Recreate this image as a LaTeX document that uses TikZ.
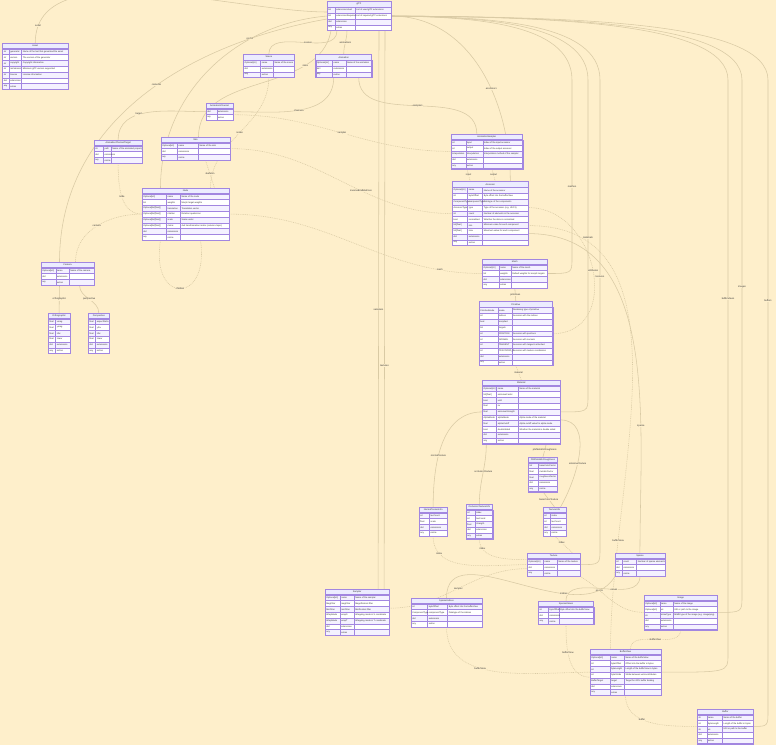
\documentclass[tikz,border=0pt]{standalone}
\usepackage{fontspec}
\setmainfont{Liberation Sans}
\usetikzlibrary{calc}

\definecolor{bg}{HTML}{FEEFCB}
\definecolor{hdr}{HTML}{ECECFF}
\definecolor{rowodd}{HTML}{F4F1FF}
\definecolor{roweven}{HTML}{FFFFFF}
\definecolor{bord}{HTML}{A286E0}
\definecolor{edgec}{HTML}{D9CAA4}
\definecolor{ink}{HTML}{333333}

\pgfdeclarelayer{back}
\pgfdeclarelayer{wires}
\pgfsetlayers{back,wires,main}

\def\rh{5.8}

% \ertab{name}{left}{top}{col1}{col2}{col3}{title}{type/name/description, ...}
\newcommand{\ertab}[8]{%
  \begin{scope}[shift={(#2,#3)}]
    \pgfmathsetmacro{\erA}{#4}%
    \pgfmathsetmacro{\erB}{#4+#5}%
    \pgfmathsetmacro{\erC}{#4+#5+#6}%
    \foreach \ty/\nm/\ds [count=\i] in {#8}{%
      \pgfmathsetmacro{\erya}{\rh*\i}%
      \pgfmathsetmacro{\eryb}{\rh*(\i+1)}%
      \pgfmathsetmacro{\erym}{\rh*(\i+0.5)}%
      \ifodd\i\relax \def\erfc{rowodd}\else \def\erfc{roweven}\fi
      \fill[\erfc] (0,\erya) rectangle (\erC,\eryb);
      \draw[cellline] (0,\erya) rectangle (\erC,\eryb);
      \draw[cellline] (\erA,\erya) -- (\erA,\eryb);
      \draw[cellline] (\erB,\erya) -- (\erB,\eryb);
      \node[celltext] at (1.1,\erym) {\ty};
      \node[celltext] at (\erA+1.1,\erym) {\nm};
      \node[celltext] at (\erB+1.1,\erym) {\ds};
      \xdef\ernrows{\i}%
    }%
    \fill[hdr] (0,0) rectangle (\erC,\rh);
    \node[titletext] at (\erC/2,\rh/2) {#7};
    \pgfmathsetmacro{\ertabh}{\rh*(\ernrows+1)}%
    \draw[tabframe] (0,\rh) -- (\erC,\rh);
    \draw[tabframe] (0,0) rectangle (\erC,\ertabh);
    \node[inner sep=0pt, outer sep=0pt, minimum width={\erC pt}, minimum height={\ertabh pt}, anchor=north west] (#1) at (0,0) {};
  \end{scope}%
}

\begin{document}
\begin{tikzpicture}[x=1pt,y=-1pt,
  cellline/.style={draw=bord, line width=0.4pt},
  tabframe/.style={draw=bord, line width=0.7pt},
  celltext/.style={anchor=west, inner sep=0pt, font=\fontsize{2.2}{2.5}\selectfont, text=ink},
  titletext/.style={inner sep=0pt, font=\fontsize{2.3}{2.6}\selectfont, text=ink},
  rel/.style={draw=edgec, line width=0.55pt},
  opt/.style={draw=edgec, line width=0.55pt, dash pattern=on 0.9pt off 0.9pt},
  lbl/.style={fill=bg, inner sep=0.4pt, font=\fontsize{2.4}{2.7}\selectfont, text=ink}]

\begin{pgfonlayer}{back}
  \fill[white] (0,0) rectangle (784,753);
  \fill[bg] (0,0) rectangle (776,745);
\end{pgfonlayer}
\useasboundingbox (0,0) rectangle (784,753);

% ---------------- entities ----------------
\ertab{gltf}{327}{1.5}{8}{20}{36}{glTF}{list/extensionsUsed/List of used glTF extensions, list/extensionsRequired/List of required glTF extensions, dict/extensions/{}, any/extras/{}}

\ertab{asset}{2.5}{43}{6.5}{12.5}{46.5}{Asset}{str/generator/Name of the tool that generated the asset, str/version/The version of the generator, str/copyright/Copyright information, str/minVersion/Minimum glTF version supported, str/license/License information, dict/extensions/{}, any/extras/{}}

\ertab{scene}{243.3}{54.3}{17.3}{12.7}{21}{Scene}{Optional[str]/name/Name of the scene, dict/extensions/{}, any/extras/{}}

\ertab{anim}{315.7}{54.3}{16.7}{13.3}{26}{Animation}{Optional[str]/name/Name of the animation, dict/extensions/{}, any/extras/{}}

\ertab{animch}{206}{103}{10.7}{16.3}{0}{AnimationChannel}{dict/extensions/{}, any/extras/{}}

\ertab{target}{94}{140}{9.3}{7.7}{31.3}{AnimationChannelTarget}{str/path/Name of the animated property, dict/extensions/{}, any/extras/{}}

\ertab{skin}{161}{137}{16.3}{21}{31.7}{Skin}{Optional[str]/name/Name of the skin, dict/extensions/{}, any/extras/{}}

\ertab{node}{142}{188}{24.3}{14}{48.7}{Node}{Optional[str]/name/Name of the node, list/weights/Morph target weights, Optional[list[float]]/translation/Translation vector, Optional[list[float]]/rotation/Rotation quaternion, Optional[list[float]]/scale/Scale vector, Optional[list[float]]/matrix/4x4 transformation matrix (column-major), dict/extensions/{}, any/extras/{}}

\ertab{animsamp}{451}{134}{14.7}{17}{40}{AnimationSampler}{int/input/Index of the input accessor, int/output/Index of the output accessor, Interpolation/interpolation/Interpolation method of the sampler, dict/extensions/{}, any/extras/{}}

\ertab{accessor}{452.3}{181.7}{15.3}{15}{45.7}{Accessor}{Optional[str]/name/Name of the accessor, int/byteOffset/Byte offset into the bufferView, ComponentType/componentType/Datatype of the components, AccessorType/type/Type of the accessor (e.g. VEC3), int/count/Number of elements in the accessor, bool/normalized/Whether the data is normalized, list[float]/min/Minimum value for each component, list[float]/max/Maximum value for each component, dict/extensions/{}, any/extras/{}}

\ertab{mesh}{482.3}{259}{16.7}{12}{36.3}{Mesh}{Optional[str]/name/Name of the mesh, list/weights/Default weights for morph targets, dict/extensions/{}, any/extras/{}}

\ertab{prim}{479}{301.7}{18.7}{14}{41}{Primitive}{PrimitiveMode/mode/Rendering type of primitive, int/indices/Accessor with the indices, bool/morphed/{}, list/targets/{}, int/POSITION/Accessor with positions, int/NORMAL/Accessor with normals, int/TANGENT/Accessor with tangents attached, int/TEXCOORD\_0/Accessor with texture coordinates, dict/extensions/{}, any/extras/{}}

\ertab{material}{482.3}{380}{14.3}{21.7}{42}{Material}{Optional[str]/name/Name of the material, list[float]/emissiveFactor/{}, bool/unlit/{}, float/ior/{}, float/emissiveStrength/{}, AlphaMode/alphaMode/Alpha mode of the material, float/alphaCutoff/Alpha cutoff value for alpha mode, bool/doubleSided/Whether the material is double sided, dict/extensions/{}, any/extras/{}}

\ertab{pbr}{528.3}{457}{10}{19.3}{0}{PBRMetallicRoughness}{list/baseColorFactor/{}, float/metallicFactor/{}, float/roughnessFactor/{}, dict/extensions/{}, any/extras/{}}

\ertab{normal}{419}{507}{10.3}{18}{0}{NormalTextureInfo}{int/texCoord/{}, float/scale/{}, dict/extensions/{}, any/extras/{}}

\ertab{occl}{466}{504}{9}{17.7}{0}{OcclusionTextureInfo}{int/index/{}, int/texCoord/{}, float/strength/{}, dict/extensions/{}, any/extras/{}}

\ertab{texinfo}{543}{507}{7.3}{15.7}{0}{TextureInfo}{int/index/{}, int/texCoord/{}, dict/extensions/{}, any/extras/{}}

\ertab{texture}{527.3}{553}{16}{14}{22.7}{Texture}{Optional[str]/name/Name of the texture, dict/extensions/{}, any/extras/{}}

\ertab{sparse}{615}{553}{7.3}{14.3}{28.3}{Sparse}{int/count/Number of sparse elements, dict/extensions/{}, any/extras/{}}

\ertab{image}{644}{595}{15.7}{13.3}{44.3}{Image}{Optional[str]/name/Name of the image, Optional[str]/uri/URI or path to the image, str/mimeType/{MIME type of the image (e.g. image/png)}, dict/extensions/{}, any/extras/{}}

\ertab{sparseval}{538.3}{601}{10}{10.7}{34.7}{SparseValues}{int/byteOffset/Byte offset into the bufferView, dict/extensions/{}, any/extras/{}}

\ertab{sparseidx}{411}{598}{16.5}{20}{34.5}{SparseIndices}{int/byteOffset/Byte offset into the bufferView, ComponentType/componentType/Datatype of the indices, dict/extensions/{}, any/extras/{}}

\ertab{sampler}{325}{589}{15}{14}{35.3}{Sampler}{Optional[str]/name/Name of the sampler, MagFilter/magFilter/Magnification filter, MinFilter/minFilter/Minification filter, WrapMode/wrapS/Wrapping mode in S coordinate, WrapMode/wrapT/Wrapping mode in T coordinate, dict/extensions/{}, any/extras/{}}

\ertab{bufview}{590}{649}{20}{14.3}{36.7}{BufferView}{Optional[str]/name/Name of the bufferView, int/byteOffset/Offset into the buffer in bytes, int/byteLength/Length of the bufferView in bytes, int/byteStride/Stride between vertex attributes, BufferTarget/target/Target for GPU buffer binding, dict/extensions/{}, any/extras/{}}

\ertab{buffer}{697.3}{709}{9.4}{15.6}{31}{Buffer}{str/name/Name of the buffer, int/byteLength/Length of the buffer in bytes, str/uri/URI or path to the buffer, dict/extensions/{}, any/extras/{}}

\ertab{camera}{41}{262}{14.7}{13.3}{25}{Camera}{Optional[str]/name/Name of the camera, dict/extensions/{}, any/extras/{}}

\ertab{ortho}{48.3}{313}{7.3}{14.3}{0}{Orthographic}{float/xmag/{}, float/ymag/{}, float/zfar/{}, float/znear/{}, dict/extensions/{}, any/extras/{}}

\ertab{persp}{88.3}{313}{7.3}{13.7}{0}{Perspective}{float/aspectRatio/{}, float/yfov/{}, float/zfar/{}, float/znear/{}, dict/extensions/{}, any/extras/{}}

% ---------------- relationships ----------------
\begin{pgfonlayer}{wires}
  % root collections, left and below
  \draw[rel] ([yshift=4pt]gltf.west) to[out=180,in=90,looseness=0.8] node[lbl,pos=0.93]{asset} (asset.north);
  \draw[rel] ([xshift=-22pt]gltf.south) to[out=-90,in=90] node[lbl,pos=0.45]{scenes} (scene.north);
  \draw[rel] ([xshift=-12pt]gltf.south) to[out=-90,in=90] node[lbl,pos=0.5]{animations} (anim.north);
  \draw[rel] ([xshift=-28pt]gltf.south) to[out=-100,in=90] node[lbl,pos=0.25]{skins} ([xshift=3pt]skin.north);
  \draw[rel] (gltf.west) to[out=185,in=90] node[lbl,pos=0.3]{nodes} ([xshift=-25pt]node.north);
  \draw[rel] ([yshift=-3pt]gltf.west) to[out=190,in=90] node[lbl,pos=0.45]{cameras} ([xshift=-8pt]camera.north);
  \draw[rel] ([xshift=20pt]gltf.south) -- node[lbl,pos=0.5]{samplers} ([xshift=21pt]sampler.north);
  \draw[rel] ([xshift=26pt]gltf.south) -- node[lbl,pos=0.6]{textures} ([xshift=27pt]sampler.north);
  \draw[rel] (gltf.east) to[out=0,in=90] node[lbl,pos=0.6]{accessors} ([xshift=20pt]accessor.north);

  % root collections, down the right side
  \draw[rel] (gltf.east) .. controls (470,17) and (572,22) .. (572,80)
    -- node[lbl,pos=0.6]{meshes} (572,258) .. controls (572,273.5) .. (mesh.east);
  \draw[rel] (gltf.east) .. controls (480,17) and (588,22) .. (588,80)
    -- node[lbl,pos=0.5]{materials} (588,396) .. controls (588,412) .. (material.east);
  \draw[rel] (gltf.east) .. controls (490,17) and (600,22) .. (600,80)
    -- node[lbl,pos=0.42]{textures} (600,548) .. controls (600,564.6) .. (texture.east);
  \draw[rel] (gltf.east) .. controls (560,17) and (742,22) .. (742,80)
    -- node[lbl,pos=0.4]{images} (742,596) .. controls (742,612.4) .. (image.east);
  \draw[rel] (gltf.east) .. controls (550,17) and (728,22) .. (728,80)
    -- node[lbl,pos=0.38]{bufferViews} (728,655) .. controls (728,672.2) .. (bufview.east);
  \draw[rel] (gltf.east) .. controls (580,17) and (768,22) .. (768,80)
    -- node[lbl,pos=0.35]{buffers} (768,710) .. controls (768,726.4) .. (buffer.east);

  % scene graph
  \draw[opt] (scene.south) to[out=-90,in=90] node[lbl,pos=0.5]{nodes} ([xshift=25pt]node.north);
  \draw[opt] ([xshift=-25pt]node.south) .. controls (150,305) and (210,305) .. node[lbl,pos=0.5]{children} ([xshift=15pt]node.south);
  \draw[opt] (node.west) to[out=180,in=90] node[lbl,pos=0.5]{camera} ([xshift=8pt]camera.north);
  \draw[opt] (node.east) to[out=0,in=180] node[lbl,pos=0.85]{mesh} (mesh.west);
  \draw[opt] ([xshift=10pt]skin.south) -- node[lbl,pos=0.5]{skeleton} ([xshift=29pt]node.north);
  \draw[opt] (skin.east) to[out=0,in=180] node[lbl,pos=0.6]{inverseBindMatrices} (accessor.west);

  % animation
  \draw[rel] ([xshift=-10pt]anim.south) to[out=-90,in=0] node[lbl,pos=0.5]{channels} (animch.east);
  \draw[rel] ([xshift=15pt]anim.south) to[out=-90,in=90] node[lbl,pos=0.5]{samplers} ([xshift=-10pt]animsamp.north);
  \draw[rel] (animch.west) to[out=180,in=90] node[lbl,pos=0.6]{target} (target.north);
  \draw[opt] ([yshift=-3pt]animch.east) to[out=0,in=180] node[lbl,pos=0.5]{sampler} (animsamp.west);
  \draw[opt] (target.south) to[out=-90,in=180] node[lbl,pos=0.5]{node} (node.west);
  \draw[opt] ([xshift=-20pt]animsamp.south) -- node[lbl,pos=0.5]{input} ([xshift=-20pt]accessor.north);
  \draw[opt] ([xshift=5pt]animsamp.south) -- node[lbl,pos=0.5]{output} ([xshift=5pt]accessor.north);

  % meshes and accessors
  \draw[rel] (mesh.south) -- node[lbl,pos=0.5]{primitives} (prim.north);
  \draw[opt] (prim.east) to[out=0,in=0,looseness=1.4] node[lbl,pos=0.5]{attributes} ([yshift=6pt]accessor.east);
  \draw[opt] (prim.south) -- node[lbl,pos=0.5]{material} (material.north);
  \draw[rel] ([yshift=-20pt]accessor.east) to[out=0,in=90] node[lbl,pos=0.7]{sparse} (sparse.north);
  \draw[opt] ([yshift=-12pt]accessor.east) to[out=0,in=90] node[lbl,pos=0.8]{bufferView} ([xshift=-15pt]bufview.north);

  % materials and textures
  \draw[rel] ([xshift=25pt]material.south) -- node[lbl,pos=0.45]{pbrMetallicRoughness} (pbr.north);
  \draw[rel] ([xshift=-35pt]material.south) to[out=-90,in=90] node[lbl,pos=0.45]{occlusionTexture} (occl.north);
  \draw[rel] (material.west) to[out=180,in=90] node[lbl,pos=0.6]{normalTexture} (normal.north);
  \draw[rel] ([yshift=-8pt]material.east) to[out=0,in=60] node[lbl,pos=0.6]{emissiveTexture} ([xshift=6pt]texinfo.north);
  \draw[rel] (pbr.south) -- node[lbl,pos=0.5]{baseColorTexture} (texinfo.north);
  \draw[opt] (normal.south) to[out=-90,in=180] node[lbl,pos=0.2]{index} (texture.west);
  \draw[opt] (occl.south) to[out=-90,in=180] node[lbl,pos=0.2]{index} ([yshift=5pt]texture.west);
  \draw[opt] (texinfo.south) -- node[lbl,pos=0.4]{index} ([xshift=19pt]texture.north);
  \draw[opt] ([yshift=-4pt]texture.west) to[out=180,in=0] node[lbl,pos=0.5]{sampler} ([yshift=4pt]sampler.east);
  \draw[opt] (texture.south east) to[out=-30,in=180] node[lbl,pos=0.3]{source} (image.west);

  % sparse storage and buffers
  \draw[rel] (sparse.south) to[out=-90,in=90] node[lbl,pos=0.4]{values} (sparseval.north);
  \draw[rel] (sparse.south west) to[out=-120,in=90] node[lbl,pos=0.3]{indices} (sparseidx.north);
  \draw[opt] (sparseval.south) to[out=-90,in=180] node[lbl,pos=0.4]{bufferView} ([yshift=-5pt]bufview.west);
  \draw[opt] (sparseidx.south) to[out=-90,in=180] node[lbl,pos=0.4]{bufferView} (bufview.west);
  \draw[opt] (image.south) to[out=-90,in=90] node[lbl,pos=0.5]{bufferView} ([xshift=5pt]bufview.north);
  \draw[opt] (bufview.south) to[out=-90,in=180] node[lbl,pos=0.4]{buffer} (buffer.west);

  % cameras
  \draw[rel] ([xshift=-8pt]camera.south) -- node[lbl,pos=0.5]{orthographic} (ortho.north);
  \draw[rel] ([xshift=12pt]camera.south) to[out=-90,in=90] node[lbl,pos=0.5]{perspective} (persp.north);
\end{pgfonlayer}
\end{tikzpicture}
\end{document}
